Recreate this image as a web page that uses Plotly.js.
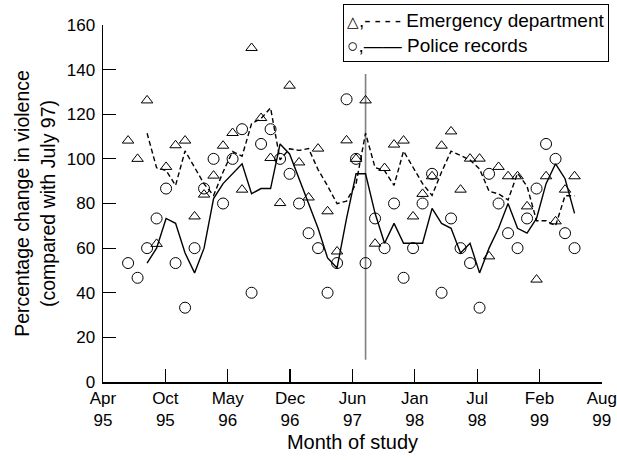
<!DOCTYPE html>
<html>
<head>
<meta charset="utf-8">
<script src="https://cdn.plot.ly/plotly-3.0.1.min.js"></script>
<style>html,body{margin:0;padding:0;background:#fff;}#chart{width:617px;height:460px;}</style>
</head>
<body>
<div id="chart"></div>
<script>
// Months of study (Jun 95 .. May 99); x position = month number counted from Apr 95
var months = ["Jun 95","Jul 95","Aug 95","Sep 95","Oct 95","Nov 95","Dec 95","Jan 96","Feb 96","Mar 96","Apr 96","May 96",
  "Jun 96","Jul 96","Aug 96","Sep 96","Oct 96","Nov 96","Dec 96","Jan 97","Feb 97","Mar 97","Apr 97","May 97",
  "Jun 97","Jul 97","Aug 97","Sep 97","Oct 97","Nov 97","Dec 97","Jan 98","Feb 98","Mar 98","Apr 98","May 98",
  "Jun 98","Jul 98","Aug 98","Sep 98","Oct 98","Nov 98","Dec 98","Jan 99","Feb 99","Mar 99","Apr 99","May 99"];
var monthNumber = [2,3,4,5,6,7,8,9,10,11,12,13,14,15,16,17,18,19,20,21,22,23,24,25,
  26,27,28,29,30,31,32,33,34,35,36,37,38,39,40,41,42,43,44,45,46,47,48,49];

// Emergency department (triangles) - monthly values
var edValues = [108.2,100.0,126.2,61.9,96.4,106.1,108.2,74.2,84.0,92.5,105.9,111.6,
  86.2,149.7,118.3,100.4,80.2,132.8,98.4,82.7,104.6,76.5,58.5,108.3,
  100.0,126.2,62.0,95.9,106.4,108.2,74.2,84.3,92.2,105.9,112.3,86.2,
  100.1,100.1,56.3,96.4,92.2,92.2,78.7,45.9,92.2,72.0,86.2,92.2];
// Emergency department - 3 month moving average (dashed), from 3rd month on
var edAverage = [null,null,111.5,96.0,94.8,88.1,103.6,96.2,88.8,83.6,94.1,103.3,
  101.2,115.8,118.1,122.8,99.6,104.5,103.8,104.6,95.2,87.9,79.9,81.1,
  88.9,111.5,96.1,94.7,88.1,103.5,96.3,88.9,83.6,94.1,103.5,101.5,
  99.5,95.5,85.5,84.3,81.6,93.6,87.7,72.3,72.3,70.0,83.5,83.5];

// Police records (circles) - monthly values
var policeValues = [53.3,46.7,60.0,73.3,86.7,53.3,33.3,60.0,86.7,100.0,80.0,100.0,
  113.3,40.0,106.7,113.3,100.0,93.3,80.0,66.7,60.0,40.0,53.3,126.7,
  100.0,53.3,73.3,60.0,80.0,46.7,60.0,80.0,93.3,40.0,73.3,60.0,
  53.3,33.3,93.3,80.0,66.7,60.0,73.3,86.7,106.7,100.0,66.7,60.0];
// Police records - 3 month moving average (solid)
var policeAverage = [null,null,53.3,60.0,73.3,71.1,57.8,48.9,60.0,82.2,88.9,93.3,
  97.8,84.4,86.7,86.7,106.7,102.2,91.1,80.0,68.9,55.6,51.1,73.3,
  93.3,93.3,75.6,62.2,71.1,62.2,62.2,62.2,77.8,71.1,68.9,57.8,
  62.2,48.9,60.0,68.9,80.0,68.9,66.7,73.3,88.9,97.8,91.1,75.6];

// Reference month (July 97) marker line
var refMonth = [27, 27];
var refRange = [10, 138];

// Axis tick labels
var xTickLabels = ["Apr<br>95","Oct<br>95","May<br>96","Dec<br>96","Jun<br>97","Jan<br>98","Jul<br>98","Feb<br>99","Aug<br>99"];
var yTickValues = [0,20,40,60,80,100,120,140,160];

var xStart = -0.64, xEnd = 51.87;
var tickStep = (xEnd - xStart) / (xTickLabels.length - 1);
var xTickVals = xTickLabels.map(function(_, k){ return xStart + k * tickStep; });

var FONT = "Liberation Sans, Arial, sans-serif";

var traces = [
  { x: refMonth, y: refRange, mode: "lines", line: {color: "#808080", width: 1.6}, hoverinfo: "skip", showlegend: false },
  { x: monthNumber, y: edAverage, mode: "lines", line: {color: "#000", width: 1.4, dash: "5px,3px"}, connectgaps: false, showlegend: false, text: months },
  { x: monthNumber, y: policeAverage, mode: "lines", line: {color: "#000", width: 1.4}, showlegend: false, text: months },
  { x: monthNumber, y: edValues, mode: "markers", marker: {symbol: "triangle-up-open", size: 10, color: "#000", line: {width: 1, color: "#000"}}, showlegend: false, text: months },
  { x: monthNumber, y: policeValues, mode: "markers", marker: {symbol: "circle-open", size: 11, color: "#000", line: {width: 1, color: "#000"}}, showlegend: false, text: months }
];

var layout = {
  width: 617, height: 460,
  margin: {l: 103, r: 15, t: 25, b: 78},
  paper_bgcolor: "#fff", plot_bgcolor: "#fff",
  font: {family: FONT, color: "#000", size: 17},
  showlegend: false,
  xaxis: {
    range: [xStart, xEnd + 0.02], tickmode: "array", tickvals: xTickVals, ticktext: xTickLabels,
    ticks: "inside", ticklen: 13, tickwidth: 1.2, tickcolor: "#000",
    showline: true, linecolor: "#000", linewidth: 1.5, showgrid: false, zeroline: false,
    tickfont: {size: 17, family: FONT},
    title: {text: "Month of study", font: {size: 20, family: FONT}, standoff: 6}
  },
  yaxis: {
    range: [0, 160], tickmode: "array", tickvals: yTickValues,
    ticks: "inside", ticklen: 13, tickwidth: 1.2, tickcolor: "#000",
    showline: true, linecolor: "#000", linewidth: 1.5, showgrid: false, zeroline: false,
    tickfont: {size: 17, family: FONT}, ticklabelstandoff: 3,
    title: {text: "Percentage change in violence<br>(compared with July 97)", font: {size: 19.5, family: FONT}, standoff: 6}
  },
  annotations: [{
    xref: "paper", yref: "paper", x: 0.481, y: 1.058, xanchor: "left", yanchor: "top",
    text: "<span style='font-size:15px'>△</span>,-\u2009-\u2009-\u2009- Emergency department<br><span style='font-size:19px'>○</span>,—— Police records",
    align: "left", showarrow: false, font: {size: 19, family: FONT, color: "#000"},
    bordercolor: "#000", borderwidth: 1, borderpad: 3, bgcolor: "#fff", width: 258, height: 50
  }]
};

Plotly.newPlot("chart", traces, layout, {staticPlot: true, displayModeBar: false});
</script>
</body>
</html>
